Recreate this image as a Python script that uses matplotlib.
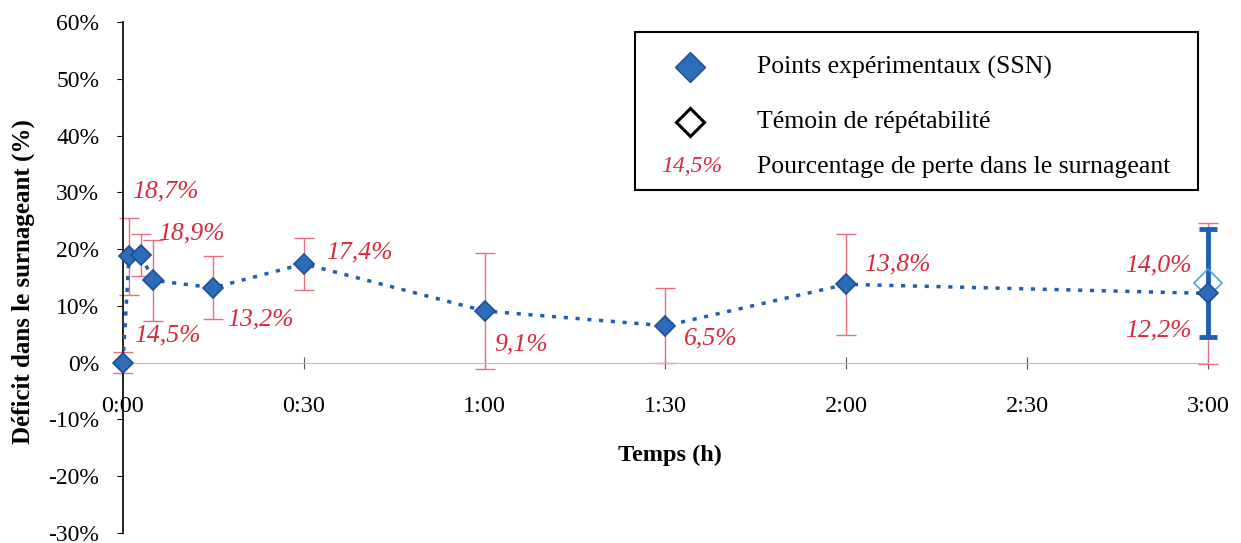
import matplotlib
matplotlib.use("Agg")
import matplotlib.pyplot as plt
from matplotlib.patches import Rectangle
from matplotlib.lines import Line2D
from matplotlib.ticker import FixedLocator, FuncFormatter

plt.rcParams['font.family'] = ['Liberation Serif', 'DejaVu Serif']

# data (time in minutes, deficit in %)
temps = [0, 1, 3, 5, 15, 30, 60, 90, 120, 180]
deficit = [0.0, 18.7, 18.9, 14.5, 13.2, 17.4, 9.1, 6.5, 13.8, 12.2]
err = [1.8, 6.7, 3.7, 7.1, 5.5, 4.6, 10.2, 6.6, 8.9, 12.4]
labels = ["", "18,7%", "18,9%", "14,5%", "13,2%", "17,4%", "9,1%", "6,5%", "13,8%", "12,2%"]
temoin_t = [180]
temoin_val = [14.0]
temoin_err = [9.5]
xticks = [0, 30, 60, 90, 120, 150, 180]
xticklabels = ["0:00", "0:30", "1:00", "1:30", "2:00", "2:30", "3:00"]
yticks = [-30, -20, -10, 0, 10, 20, 30, 40, 50, 60]

# label offsets in points (dx, dy, ha)
lab_pos = [None, (2, 47, 'left'), (12, 16, 'left'), (-14, -40, 'left'), (10, -23, 'left'),
           (16, 8, 'left'), (7, -24, 'left'), (13, -9, 'left'), (13, 14, 'left'), (-12, -27, 'right')]

blue = '#2c6cb8'
blue_edge = '#1b4f96'
red = '#d8283a'

fig = plt.figure(figsize=(12.41, 5.43), dpi=100)
ax = fig.add_axes([0.0991, 0.0184, 0.8743, 0.9411])

ax.errorbar(temps, deficit, yerr=err, fmt='none', ecolor='#e8707e', elinewidth=1,
            capsize=7, capthick=1, zorder=2, clip_on=False)
ax.errorbar(temoin_t, temoin_val, yerr=temoin_err, fmt='none', ecolor='#1f5fb0', elinewidth=3.5,
            capsize=6.5, capthick=3.5, zorder=3, clip_on=False)
ax.plot(temps, deficit, linestyle=(0, (1.2, 2.2)), color='#1f5fb0', linewidth=2.5, zorder=3)
ax.plot(temps, deficit, 'D', color=blue, markeredgecolor=blue_edge, markersize=10,
        markeredgewidth=1.2, zorder=5, clip_on=False)
ax.plot(temoin_t, temoin_val, 'D', markerfacecolor='none', markeredgecolor='#45a6d6',
        markersize=14, markeredgewidth=1.2, zorder=4, clip_on=False)

for t, v, lab, p in zip(temps, deficit, labels, lab_pos):
    if p is None:
        continue
    ax.annotate(lab, (t, v), xytext=(p[0], p[1]), textcoords='offset points', ha=p[2],
                va='center', color=red, fontsize=18.5, style='italic')
ax.annotate("14,0%", (temoin_t[0], temoin_val[0]), xytext=(-12, 13), textcoords='offset points',
            ha='right', va='center', color=red, fontsize=18.5, style='italic')

ax.set_xlim(0, 180)
ax.set_ylim(-30, 60)
ax.spines['top'].set_visible(False)
ax.spines['right'].set_visible(False)
ax.spines['bottom'].set_position(('data', 0))
ax.spines['bottom'].set_color('#bbbbbb')
ax.spines['left'].set_linewidth(1.2)
ax.xaxis.set_major_locator(FixedLocator(xticks))
ax.set_xticklabels(xticklabels)
ax.yaxis.set_major_locator(FixedLocator(yticks))
ax.yaxis.set_major_formatter(FuncFormatter(lambda v, p: "%d%%" % v))
ax.tick_params(axis='x', direction='inout', length=8, color='#555555', labelsize=17.5, pad=20)
ax.tick_params(axis='y', direction='out', length=4, labelsize=17, pad=13)

fig.text(0.0185, 0.482, "Déficit dans le surnageant (%)", rotation=90, ha='center', va='center',
         fontsize=18, fontweight='bold')
fig.text(0.54, 1 - 455 / 543, "Temps (h)", ha='center', va='center', fontsize=17.5, fontweight='bold')

# legend drawn by hand
fig.patches.append(Rectangle((635 / 1241, 1 - 190 / 543), 563 / 1241, 158 / 543,
                             transform=fig.transFigure, fill=False, edgecolor='black', linewidth=1.5))
fig.lines.append(Line2D([690 / 1241], [1 - 67 / 543], transform=fig.transFigure, marker='D',
                        color=blue, markeredgecolor=blue_edge, markersize=15, linestyle='none'))
fig.lines.append(Line2D([690 / 1241], [1 - 122 / 543], transform=fig.transFigure, marker='D',
                        markerfacecolor='white', markeredgecolor='black', markersize=14,
                        markeredgewidth=2.2, linestyle='none'))
fig.text(692 / 1241, 1 - 167 / 543, "14,5%", ha='center', va='center', color=red, fontsize=17,
         style='italic')
fig.text(757 / 1241, 1 - 67 / 543, "Points expérimentaux (SSN)", va='center', fontsize=18.5)
fig.text(757 / 1241, 1 - 122 / 543, "Témoin de répétabilité", va='center', fontsize=18.5)
fig.text(757 / 1241, 1 - 167 / 543, "Pourcentage de perte dans le surnageant", va='center', fontsize=18.5)

fig.savefig("out.png", dpi=100)
